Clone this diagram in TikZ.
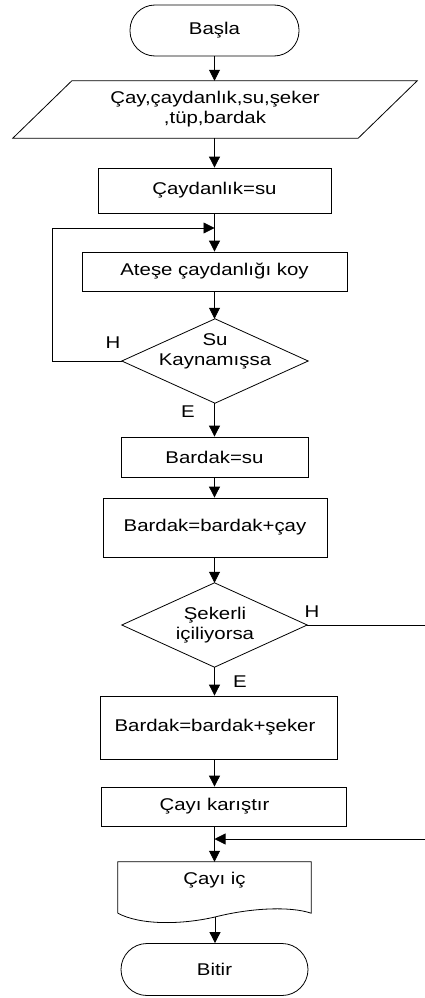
\documentclass[tikz,border=0pt]{standalone}
\usepackage{fontspec}
\setmainfont{Liberation Sans}
\usepackage{graphicx}
\usetikzlibrary{arrows.meta,calc}
\newcommand\wx[1]{\scalebox{1.2}[1]{#1}}
\begin{document}
\begin{tikzpicture}[x=1pt,y=-1pt,
  every node/.style={font=\fontsize{17}{20}\selectfont, inner sep=0pt, text=black},
  ln/.style={draw=black, line width=0.8pt},
  arr/.style={ln, -{Triangle[length=11pt,width=11pt]}},
  boxn/.style={draw=black, line width=0.8pt, rectangle},
  termn/.style={draw=black, line width=0.8pt, rectangle, rounded corners=25pt},
  ghost/.style={rectangle, inner sep=0pt},
  lbl/.style={inner sep=0pt}
]
\useasboundingbox (0,0) rectangle (425,998);
\coordinate (ax) at (214.5,0);

% nodes
\node[termn, minimum width=169pt, minimum height=51pt] (start) at (214.5,30.5) {\wx{Başla}};
\node[ghost, minimum width=404pt, minimum height=57pt, align=center] (inp) at (215,109.5)
  {\wx{Çay,çaydanlık,su,şeker}\\\wx{,tüp,bardak}};
\draw[ln] (inp.south west) -- ($(inp.north west)+(59,0)$) -- (inp.north east)
  -- ($(inp.south east)-(59,0)$) -- cycle;
\node[boxn, minimum width=233pt, minimum height=45pt] (b1) at (214.5,190.5) {\wx{Çaydanlık=su}};
\node[boxn, minimum width=265pt, minimum height=39pt] (b2) at (214.5,271.5) {\wx{Ateşe çaydanlığı koy}};
\node[ghost, minimum width=186pt, minimum height=84pt] (d1) at (215,361) {};
\draw[ln] (d1.north) -- (d1.east) -- (d1.south) -- (d1.west) -- cycle;
\node[align=center] (d1t) at (215,351.5) {\wx{Su}\\\wx{Kaynamışsa}};
\node[lbl] (h1) at (113,343) {\wx{H}};
\node[lbl] (e1) at (188,412) {\wx{E}};
\node[boxn, minimum width=187pt, minimum height=40pt] (b3) at (214.5,457) {\wx{Bardak=su}};
\node[boxn, minimum width=224pt, minimum height=59pt] (b4) at (215,527.5) {\wx{Bardak=bardak+çay}};
\node[ghost, minimum width=185pt, minimum height=84pt] (d2) at (214.5,625) {};
\draw[ln] (d2.north) -- (d2.east) -- (d2.south) -- (d2.west) -- cycle;
\node[align=center] (d2t) at (215,625) {\wx{Şekerli}\\\wx{içiliyorsa}};
\node[lbl] (h2) at (312,612) {\wx{H}};
\node[lbl] (e2) at (240,682) {\wx{E}};
\node[boxn, minimum width=237pt, minimum height=63pt] (b5) at (218.5,727.5) {};
\node (b5t) at (215,727.5) {\wx{Bardak=bardak+şeker}};
\node[boxn, minimum width=245pt, minimum height=39pt] (b6) at (223.5,806.5) {};
\node (b6t) at (214.5,806.5) {\wx{Çayı karıştır}};
\node[ghost, minimum width=193pt, minimum height=51pt] (doc) at (214.5,887.5) {};
\draw[ln] (doc.south west) -- (doc.north west) -- (doc.north east) -- (doc.south east)
  .. controls (290,906) and (250,908) .. (215,917)
  .. controls (180,925) and (140,925) .. (doc.south west);
\node (doct) at (214.5,880) {\wx{Çayı iç}};
\coordinate (docb) at (215,917);
\node[termn, minimum width=187pt, minimum height=52pt, rounded corners=26pt] (end) at (214.5,969.5) {\wx{Bitir}};

% connectors
\draw[arr] (start.south -| ax) -- (inp.north -| ax);
\draw[arr] (inp.south -| ax) -- (b1.north -| ax);
\draw[arr] (b1.south -| ax) -- (b2.north -| ax);
\draw[arr] (b2.south -| ax) -- (d1.north -| ax);
\draw[arr] (d1.south -| ax) -- (b3.north -| ax);
\draw[arr] (b3.south -| ax) -- (b4.north -| ax);
\draw[arr] (b4.south -| ax) -- (d2.north -| ax);
\draw[arr] (d2.south -| ax) -- (b5.north -| ax);
\draw[arr] (b5.south -| ax) -- (b6.north -| ax);
\draw[arr] (b6.south -| ax) -- (doc.north -| ax);
\draw[arr] (docb) -- (end.north -| docb);

\coordinate (lp) at (52,228);
\draw[arr] (d1.west) -| (lp) -- (lp -| ax);
\coordinate (hr) at (425,625);
\draw[ln] (d2.east) -- (hr);
\coordinate (mr) at (425,839);
\draw[arr] (mr) -- (mr -| ax);
\end{tikzpicture}
\end{document}
